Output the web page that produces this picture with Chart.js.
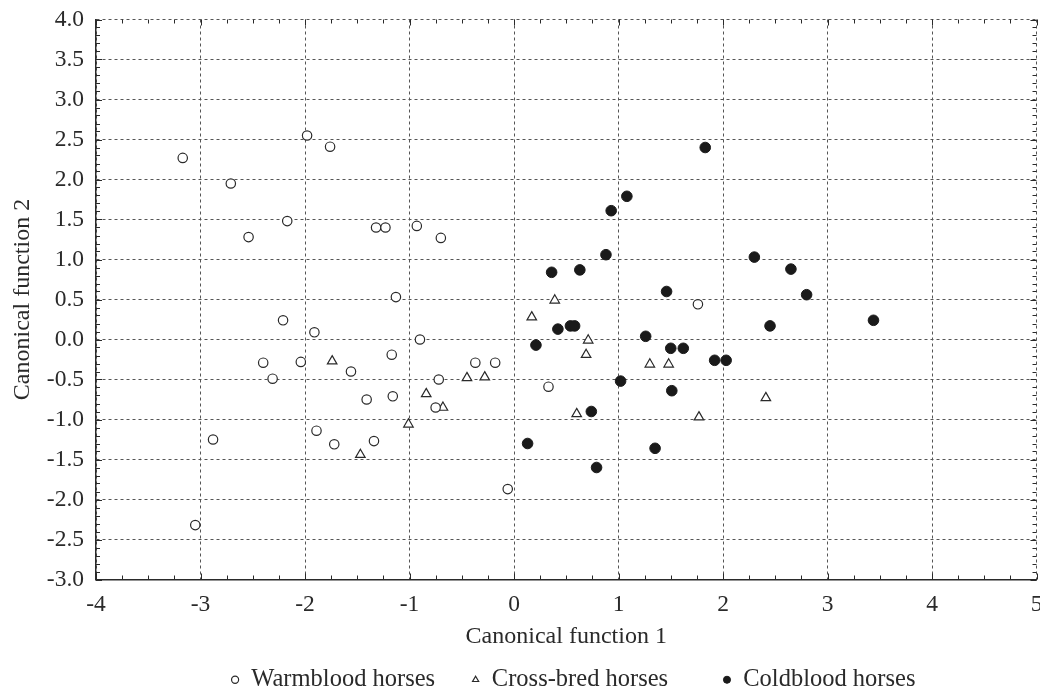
<!DOCTYPE html>
<html>
<head>
<meta charset="utf-8">
<script src="https://cdn.jsdelivr.net/npm/chart.js@4.4.1/dist/chart.umd.min.js"></script>
<style>
  html, body { margin: 0; padding: 0; background: #fff; }
  #wrap { width: 1040px; height: 691px; }
</style>
</head>
<body>
<div id="wrap"><canvas id="horseChart"></canvas></div>
<script>
const seriesNames = ['Warmblood horses', 'Cross-bred horses', 'Coldblood horses'];

const warmX = [-3.17, -2.71, -2.54, -2.17, -1.98, -1.76, -1.32, -1.23, -0.93, -0.70, -1.13, 1.76,
  -2.21, -1.91, -0.90, -2.40, -2.31, -2.04, -1.56, -1.17, -0.72, -0.37, -0.18, -1.41, -1.16,
  -0.75, -2.88, -1.89, -1.72, -1.34, -0.06, -3.05, 0.33];
const warmY = [2.27, 1.95, 1.28, 1.48, 2.55, 2.41, 1.40, 1.40, 1.42, 1.27, 0.53, 0.44,
  0.24, 0.09, 0.00, -0.29, -0.49, -0.28, -0.40, -0.19, -0.50, -0.29, -0.29, -0.75, -0.71,
  -0.85, -1.25, -1.14, -1.31, -1.27, -1.87, -2.32, -0.59];

const crossX = [0.39, 0.17, -1.74, -0.45, -0.28, -0.84, -0.68, -1.01, -1.47, 0.71, 0.69, 1.30,
  1.48, 2.41, 0.60, 1.77];
const crossY = [0.49, 0.28, -0.27, -0.48, -0.47, -0.68, -0.85, -1.06, -1.44, -0.01, -0.19, -0.31,
  -0.31, -0.73, -0.93, -0.97];

const coldX = [1.83, 1.08, 0.93, 0.88, 0.36, 0.63, 1.46, 2.30, 2.65, 2.80, 3.44, 2.45, 0.42,
  0.54, 0.58, 0.21, 1.26, 1.50, 1.62, 1.92, 2.03, 1.02, 1.51, 0.74, 0.13, 1.35, 0.79];
const coldY = [2.40, 1.79, 1.61, 1.06, 0.84, 0.87, 0.60, 1.03, 0.88, 0.56, 0.24, 0.17, 0.13,
  0.17, 0.17, -0.07, 0.04, -0.11, -0.11, -0.26, -0.26, -0.52, -0.64, -0.90, -1.30, -1.36, -1.60];

function pts(xs, ys) { return xs.map((x, i) => ({x: x, y: ys[i]})); }

const serif = "'Liberation Serif', 'DejaVu Serif', serif";
const ink = '#2a2a2a';

// small inside tick marks on all four sides
const minorTicks = {
  id: 'minorTicks',
  afterDraw(chart) {
    const {ctx, chartArea: a, scales: {x, y}} = chart;
    ctx.save();
    ctx.strokeStyle = ink;
    ctx.lineWidth = 1;
    ctx.beginPath();
    for (let i = 0; i <= 36; i++) {
      const px = Math.round(x.getPixelForValue(-4 + i * 0.25)) + 0.5;
      const len = i % 4 === 0 ? 6 : 4;
      ctx.moveTo(px, a.bottom); ctx.lineTo(px, a.bottom - len);
      ctx.moveTo(px, a.top); ctx.lineTo(px, a.top + len);
    }
    for (let i = 0; i <= 70; i++) {
      const py = Math.round(y.getPixelForValue(-3 + i * 0.1)) + 0.5;
      const len = i % 5 === 0 ? 6 : 4;
      ctx.moveTo(a.left, py); ctx.lineTo(a.left + len, py);
      ctx.moveTo(a.right, py); ctx.lineTo(a.right - len, py);
    }
    ctx.stroke();
    ctx.restore();
  }
};

// the legend row sits a bit right of centre in the original
const shiftLegend = {
  id: 'shiftLegend',
  afterLayout(chart) {
    chart.legend.left += 55;
    chart.legend.right += 55;
  }
};

// no extra room for edge tick labels: the plot fills the frame like the original
function noScalePad(s) {
  s.paddingLeft = s.paddingRight = s.paddingTop = s.paddingBottom = 0;
}

new Chart(document.getElementById('horseChart'), {
  type: 'scatter',
  data: {
    datasets: [{
      label: seriesNames[0],
      data: pts(warmX, warmY),
      pointStyle: 'circle',
      pointRadius: 4.7,
      backgroundColor: '#fff',
      borderColor: ink,
      borderWidth: 1.2
    }, {
      label: seriesNames[1],
      data: pts(crossX, crossY),
      pointStyle: 'triangle',
      pointRadius: 5.5,
      backgroundColor: '#fff',
      borderColor: ink,
      borderWidth: 1.2
    }, {
      label: seriesNames[2],
      data: pts(coldX, coldY),
      pointStyle: 'circle',
      pointRadius: 5.3,
      backgroundColor: '#1a1a1a',
      borderColor: '#1a1a1a',
      borderWidth: 1
    }]
  },
  options: {
    responsive: true,
    maintainAspectRatio: false,
    animation: false,
    layout: { autoPadding: false, padding: { left: 0, right: 3.5, top: 19.5, bottom: -11 } },
    scales: {
      x: {
        type: 'linear',
        min: -4, max: 5,
        afterFit: s => { s.height = 76; noScalePad(s); },
        ticks: { stepSize: 1, color: ink, font: { family: serif, size: 23.5 }, padding: 11 },
        grid: { color: '#555', drawTicks: false },
        border: { color: ink, width: 1.5, dash: [3, 3] },
        title: { display: true, text: 'Canonical function 1', color: ink,
                 font: { family: serif, size: 24 }, padding: { top: 0, bottom: 4 } }
      },
      y: {
        min: -3, max: 4,
        afterFit: s => { s.width = 96; noScalePad(s); },
        ticks: { stepSize: 0.5, color: ink, font: { family: serif, size: 23.5 }, padding: 12,
                 callback: v => v.toFixed(1) },
        grid: { color: '#555', drawTicks: false },
        border: { color: ink, width: 1.5, dash: [3, 3] },
        title: { display: true, text: 'Canonical function 2', color: ink,
                 font: { family: serif, size: 24 }, padding: { top: 8, bottom: 0 } }
      }
    },
    plugins: {
      legend: {
        position: 'bottom',
        labels: {
          usePointStyle: true,
          boxWidth: 8,
          boxHeight: 5,
          padding: 12,
          color: ink,
          font: { family: serif, size: 24.5 },
          generateLabels(chart) {
            const items = Chart.defaults.plugins.legend.labels.generateLabels(chart);
            // wider gaps between the three entries, as in the original
            items[0].text += '    ';
            items[1].text += '       ';
            return items;
          }
        }
      },
      tooltip: { enabled: false }
    }
  },
  plugins: [minorTicks, shiftLegend]
});
</script>
</body>
</html>
